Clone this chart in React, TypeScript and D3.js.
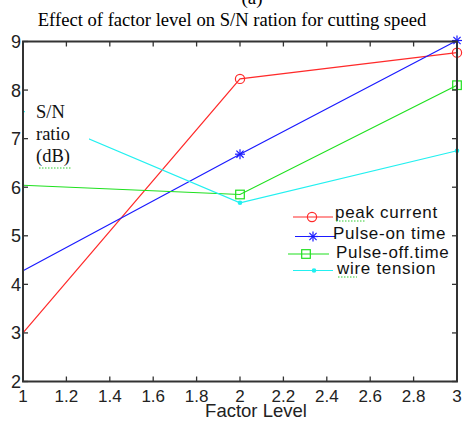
import React from "react";
import * as d3 from "d3";

const levels = [1, 2, 3];
const peakCurrent = [3.0, 8.23, 8.77];
const pulseOn = [4.28, 6.68, 9.02];
const pulseOff = [6.04, 5.85, 8.1];
const wireTension = [7.57, 5.68, 6.75];
const xTicks = [1, 1.2, 1.4, 1.6, 1.8, 2, 2.2, 2.4, 2.6, 2.8, 3];
const yTicks = [2, 3, 4, 5, 6, 7, 8, 9];
const seriesNames = ["peak current", "Pulse-on time", "Pulse-off.time", "wire tension"];

const W = 465, H = 421;
const L = 23, R = 457, T = 41.5, B = 381.5;

export default function App() {
  const x = d3.scaleLinear().domain([1, 3]).range([L, R]);
  const y = d3.scaleLinear().domain([2, 9]).range([B, T]);
  const line = d3.line<number>().x((_, i) => x(levels[i])).y((d) => y(d));
  const series = [
    { name: seriesNames[0], data: peakCurrent, color: "#ff2a2a", marker: "circle" },
    { name: seriesNames[1], data: pulseOn, color: "#1a1aff", marker: "star" },
    { name: seriesNames[2], data: pulseOff, color: "#1ee01e", marker: "square" },
    { name: seriesNames[3], data: wireTension, color: "#22f0f0", marker: "dot" },
  ];
  const marker = (m: string, cx: number, cy: number, c: string, k: string) => {
    if (m === "circle") return <circle key={k} cx={cx} cy={cy} r={4.6} fill="none" stroke={c} strokeWidth={1.2} />;
    if (m === "square") return <rect key={k} x={cx - 4.3} y={cy - 4.3} width={8.6} height={8.6} fill="none" stroke={c} strokeWidth={1.2} />;
    if (m === "dot") return <circle key={k} cx={cx} cy={cy} r={2.3} fill={c} />;
    const s = 5;
    return (
      <g key={k} stroke={c} strokeWidth={1.2}>
        <line x1={cx - s} y1={cy} x2={cx + s} y2={cy} />
        <line x1={cx} y1={cy - s} x2={cx} y2={cy + s} />
        <line x1={cx - 3.6} y1={cy - 3.6} x2={cx + 3.6} y2={cy + 3.6} />
        <line x1={cx - 3.6} y1={cy + 3.6} x2={cx + 3.6} y2={cy - 3.6} />
      </g>
    );
  };
  const legend = [
    { ly: 217, x1: 293, x2: 333, mx: 312, tx: 335, ty: 218 },
    { ly: 236.5, x1: 295, x2: 335, mx: 313, tx: 333, ty: 239 },
    { ly: 254, x1: 288, x2: 329, mx: 306, tx: 336, ty: 258 },
    { ly: 270.5, x1: 293, x2: 333, mx: 314, tx: 337, ty: 274 },
  ];
  const axisColor = "#333";
  return (
    <svg width={W} height={H} style={{ position: "absolute", left: 0, top: 0, background: "#fff" }}>
      <rect x={0} y={0} width={W} height={H} fill="#fff" />
      <text x={252} y={4} textAnchor="middle" fontFamily="Liberation Serif" fontSize={19}>(a)</text>
      <text x={232} y={26} textAnchor="middle" fontFamily="Liberation Serif" fontSize={18.6}>
        Effect of factor level on S/N ration for cutting speed
      </text>
      {series.map((s) => (
        <g key={s.name}>
          <path d={line(s.data) || ""} fill="none" stroke={s.color} strokeWidth={1.2} />
          {s.data.map((d, i) => (i === 0 ? null : marker(s.marker, x(levels[i]), y(d), s.color, s.name + i)))}
        </g>
      ))}
      {/* label box covering lines */}
      <rect x={25} y={96} width={64} height={74} fill="#fff" />
      <g fontFamily="Liberation Serif" fontSize={18.5} fill="#111">
        <text x={36} y={118}>S/N</text>
        <text x={36} y={140}>ratio</text>
        <text x={36} y={162}>(dB)</text>
      </g>
      <path d="M39,168 L71,168" stroke="#3c3" strokeWidth={1} strokeDasharray="1.5,1.5" />
      {/* axes box */}
      <rect x={L} y={T} width={R - L} height={B - T} fill="none" stroke={axisColor} strokeWidth={2} />
      {xTicks.map((t) => (
        <g key={"x" + t} stroke={axisColor} strokeWidth={1.3}>
          <line x1={x(t)} y1={B} x2={x(t)} y2={B - 5} />
          <line x1={x(t)} y1={T} x2={x(t)} y2={T + 5} />
        </g>
      ))}
      {yTicks.map((t) => (
        <g key={"y" + t} stroke={axisColor} strokeWidth={1.3}>
          <line x1={L} y1={y(t)} x2={L + 5} y2={y(t)} />
          <line x1={R} y1={y(t)} x2={R - 5} y2={y(t)} />
        </g>
      ))}
      <g fontFamily="Liberation Sans" fontSize={17} fill="#222">
        {xTicks.map((t) => (
          <text key={"xl" + t} x={x(t)} y={402} textAnchor="middle">{d3.format("~g")(t)}</text>
        ))}
        {yTicks.map((t) => (
          <text key={"yl" + t} x={21} y={y(t) + 6.5} textAnchor="end" fontSize={18}>{t}</text>
        ))}
        <text x={256} y={417} textAnchor="middle" fontSize={18.5}>Factor Level</text>
      </g>
      {series.map((s, i) => {
        const g = legend[i];
        return (
          <g key={"lg" + i}>
            <line x1={g.x1} y1={g.ly} x2={g.x2} y2={g.ly} stroke={s.color} strokeWidth={1.2} />
            {marker(s.marker, g.mx, g.ly, s.color, "lm" + i)}
            <text x={g.tx} y={g.ty} fontFamily="Liberation Sans" fontSize={17} letterSpacing={0.7} fill="#111">{s.name}</text>
          </g>
        );
      })}
      <path d="M336,221 L366,221" stroke="#3c3" strokeWidth={1} strokeDasharray="1.5,1.5" />
      <path d="M338,277 L357,277" stroke="#3c3" strokeWidth={1} strokeDasharray="1.5,1.5" />
    </svg>
  );
}
